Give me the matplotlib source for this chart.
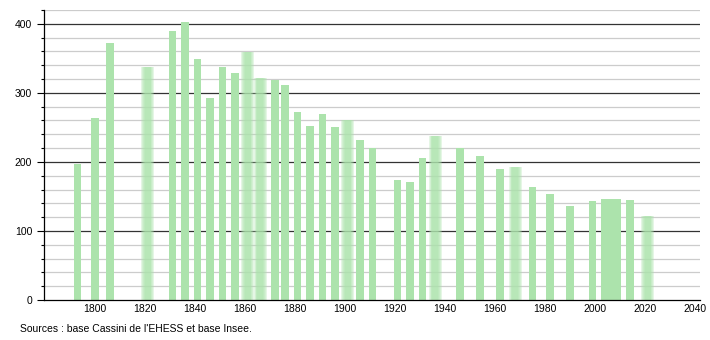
import matplotlib.pyplot as plt
import numpy as np

# population census data
years = [1793, 1800, 1806, 1821, 1831, 1836, 1841, 1846, 1851, 1856,
         1861, 1866, 1872, 1876, 1881, 1886, 1891, 1896, 1901, 1906,
         1911, 1921, 1926, 1931, 1936, 1946, 1954, 1962, 1968, 1975,
         1982, 1990, 1999, 2004, 2007, 2009, 2014, 2021]
population = [197, 264, 372, 338, 389, 402, 349, 292, 338, 329,
              359, 321, 318, 312, 272, 252, 269, 250, 261, 232,
              220, 174, 171, 206, 238, 220, 209, 190, 192, 164,
              154, 136, 143, 147, 146, 147, 145, 121]
# years drawn with a blurred outline
blurred = [1821, 1861, 1866, 1901, 1936, 1968, 2021]
xtick_years = list(range(1800, 2041, 20))
ytick_values = [0, 100, 200, 300, 400]

plt.rcParams['font.family'] = ['Liberation Sans', 'DejaVu Sans']
bar_color = '#ace3ac'

fig = plt.figure(figsize=(7.1, 3.4), dpi=100)
ax = fig.add_axes([0.062, 0.1176, 0.924, 0.853])

# grid: light every 20, dark every 100
for v in range(20, 421, 20):
    if v % 100 == 0:
        ax.axhline(v, color='#333333', lw=0.9, zorder=1)
    else:
        ax.axhline(v, color='#cccccc', lw=0.9, zorder=1)

for yr, pop in zip(years, population):
    if yr in blurred:
        for w in [5.2, 4.4, 3.6, 3.0, 2.4]:
            ax.bar(yr, pop, width=w, color=bar_color, alpha=0.3, lw=0, zorder=2)
    else:
        ax.bar(yr, pop, width=3.1, color=bar_color, lw=0, zorder=2)

ax.set_xlim(1779.6, 2042)
ax.set_ylim(0, 420)
ax.set_xticks(xtick_years)
ax.set_yticks(ytick_values)
ax.set_yticks(range(0, 421, 20), minor=True)
ax.tick_params(axis='x', length=0, labelsize=7.5, pad=3)
ax.tick_params(axis='y', which='major', length=5, labelsize=7.5, width=0.8)
ax.tick_params(axis='y', which='minor', length=2.5, width=0.8)
for s in ['top', 'right']:
    ax.spines[s].set_visible(False)
ax.spines['left'].set_linewidth(0.9)
ax.spines['bottom'].set_linewidth(0.9)

fig.text(0.028, 0.025, "Sources : base Cassini de l'EHESS et base Insee.", fontsize=7.5)

plt.savefig('out.png', dpi=100)
